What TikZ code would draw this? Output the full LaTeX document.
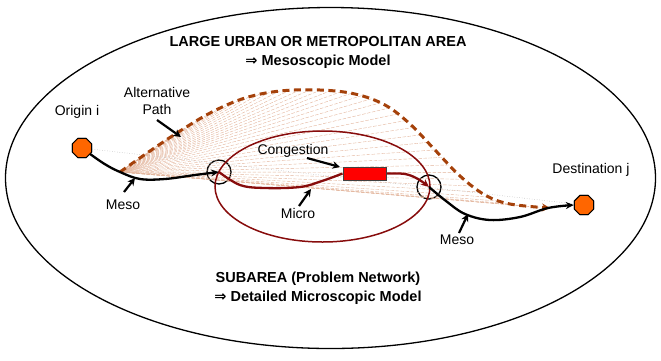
\documentclass[tikz,border=0pt]{standalone}
\usepackage{fontspec}
\setmainfont{Liberation Sans}
\newfontfamily\dejavu{DejaVu Sans}
\usetikzlibrary{arrows.meta,shapes.geometric,decorations.markings}
\definecolor{orng}{RGB}{255,102,0}
\definecolor{brn}{RGB}{165,65,10}
\definecolor{fanc}{RGB}{226,180,155}
\definecolor{dred}{RGB}{135,12,12}
\begin{document}
\begin{tikzpicture}[x=1pt,y=-1pt,
  lbl/.style={font=\fontsize{14}{16.5}\selectfont, inner sep=0pt, align=center},
  ttl/.style={font=\bfseries\fontsize{14.5}{19.5}\selectfont, inner sep=0pt, align=center},
  oct/.style={regular polygon, regular polygon sides=8, minimum size=21pt, fill=orng, draw=black, line width=1pt, inner sep=0pt},
  junc/.style={circle, draw=black, line width=1.3pt, minimum size=24pt, inner sep=0pt},
  meso/.style={line width=2.3pt, black, -{Stealth[length=8pt,width=7pt]}},
  micro/.style={line width=2.3pt, dred},
  ptr/.style={line width=2.2pt, black, -{Stealth[length=7.5pt,width=7.5pt]}},
  fan/.style={fanc, line width=0.4pt, dash pattern=on 3.5pt off 1.5pt},
  altp/.style={brn, line width=3pt, dash pattern=on 7pt off 4.5pt, -{Stealth[length=8pt,width=8pt]}},
  congbox/.style={draw=black!75, fill=red, line width=1pt, minimum width=43pt, minimum height=13pt, inner sep=0pt},
]
\useasboundingbox (0,0) rectangle (661,360);
% outer area
\draw[line width=1.3pt] (330.5,178) ellipse [x radius=325, y radius=170.5];
% key points
\coordinate (P) at (120,172);
\node[oct] (orig) at (82,148) {};
\node[oct] (dest) at (584,205) {};
\node[junc] (j1) at (219,172) {};
\node[junc] (j2) at (429,187) {};
\node[congbox] (cong) at (364.5,173.5) {};
% fan of thin lines
\path[postaction={decorate}, decoration={markings, mark=between positions 0.012 and 0.995 step 0.021 with {\draw[fan] (0,0) -- (P);}}]
  plot[smooth, tension=0.6] coordinates {(P) (150,151) (180,131) (212,112) (245,98) (280,91) (320,90) (355,94) (385,105) (410,124) (435,150) (460,176) (485,195) (510,204) (550,208)};
\draw[gray!65, line width=0.5pt, dotted] (orig) -- (dest);
% subarea
\draw[dred, line width=1.5pt] (322.5,186.5) ellipse [x radius=107.5, y radius=55.5];
% alternative path
\draw[altp] plot[smooth, tension=0.6] coordinates {(P) (150,151) (180,131) (212,112) (245,98) (280,91) (320,90) (355,94) (385,105) (410,124) (435,150) (460,176) (485,195) (510,204) (550,208)};
% meso paths
\draw[meso] plot[smooth, tension=0.6] coordinates {(orig.center) (103,163) (P) (140,179) (165,179) (195,175) (j1.center)};
\draw[meso] plot[smooth, tension=0.6] coordinates {(j2.center) (446,201) (465,214) (490,220) (520,217) (548,208) (dest.west)};
% micro path
\draw[micro] plot[smooth, tension=0.6] coordinates {(j1.center) (240,185) (265,188) (300,187) (322,181) (cong.west)};
\draw[micro, -{Stealth[length=8pt,width=7pt]}] plot[smooth, tension=0.6] coordinates {(cong.east) (405,174) (418,179) (j2.center)};
\node[congbox] at (cong) {};
\node[oct] at (orig) {};
\node[oct] at (dest) {};
% labels
\node[lbl] (lorig) at (77,112) {Origin i};
\node[lbl] (lalt) at (157,101) {Alternative\\Path};
\node[lbl] (lmeso1) at (123,205) {Meso};
\node[lbl] (lcong) at (293,151) {Congestion};
\node[lbl] (lmicro) at (298,213) {Micro};
\node[lbl] (ldest) at (591,170) {Destination j};
\node[lbl] (lmeso2) at (457,240) {Meso};
\node[ttl] (ttop) at (318,52.5) {LARGE URBAN OR METROPOLITAN AREA\\{\dejavu\bfseries ⇒} Mesoscopic Model};
\node[ttl] (tbot) at (318,288) {SUBAREA (Problem Network)\\{\dejavu\bfseries ⇒} Detailed Microscopic Model};
% pointers
\coordinate (aS) at (157,120); \coordinate (aE) at (181,137);
\coordinate (m1S) at (124,192); \coordinate (m1E) at (135,178);
\coordinate (cS) at (307,158); \coordinate (cE) at (340,167);
\coordinate (miS) at (299,206); \coordinate (miE) at (311,189);
\coordinate (m2S) at (459,233); \coordinate (m2E) at (468,214);
\draw[ptr] (aS) -- (aE);
\draw[ptr] (m1S) -- (m1E);
\draw[ptr] (cS) -- (cE);
\draw[ptr] (miS) -- (miE);
\draw[ptr] (m2S) -- (m2E);
\end{tikzpicture}
\end{document}
